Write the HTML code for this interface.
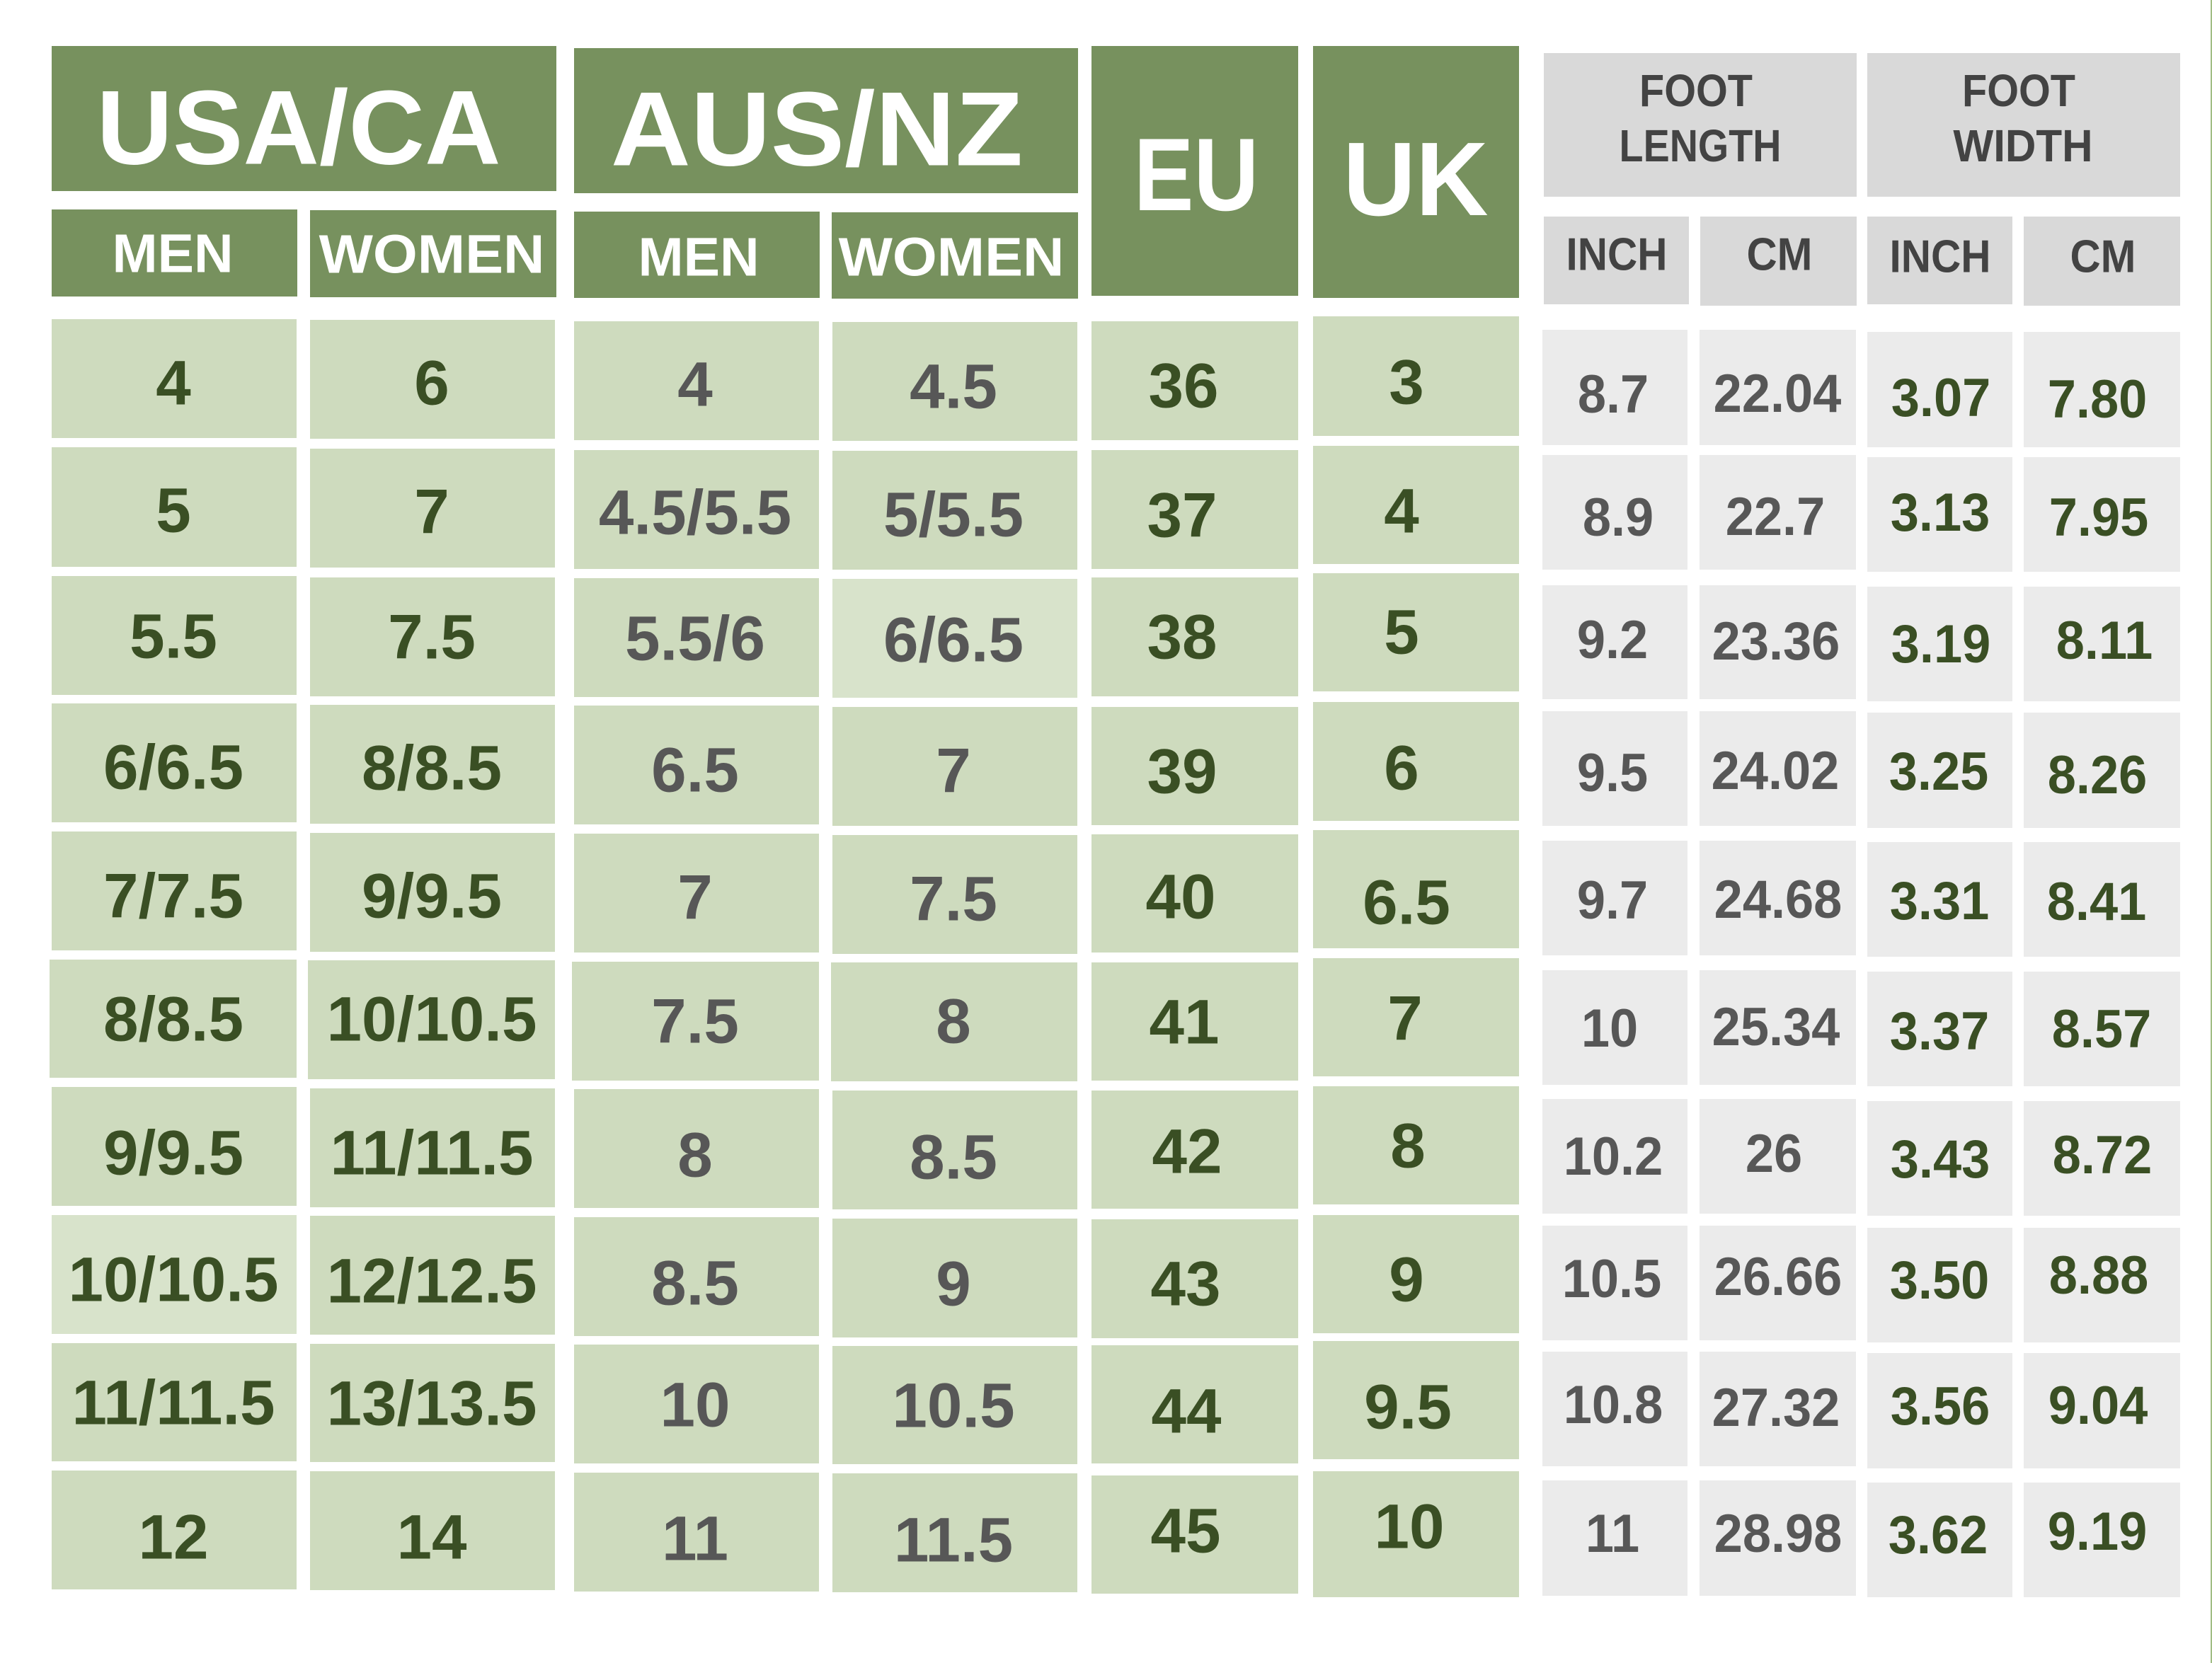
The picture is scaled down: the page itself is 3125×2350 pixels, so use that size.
<!DOCTYPE html>
<html>
<head>
<meta charset="utf-8">
<style>
html,body{margin:0;padding:0;background:#ffffff;}
body{width:3125px;height:2350px;position:relative;overflow:hidden;}
.c{position:absolute;}
.h{background:#77915e;}
.g{background:#cedbbe;}
.gl{background:#d8e3cb;}
.r{background:#ebebeb;}
.rh{background:#d9d9d9;}
.t{position:absolute;font-family:"Liberation Sans",Arial,sans-serif;font-weight:bold;line-height:1;white-space:nowrap;transform:translate(-50%,-50%);}
.w{color:#ffffff;}
.hg{color:#434343;}
.dg{color:#3a4f24;font-size:89px;}
.gr{color:#575757;font-size:89px;}
.rdg{color:#3a4f24;font-size:76px;transform:translate(-50%,-50%) scaleX(0.95);}
.rgr{color:#575757;font-size:76px;transform:translate(-50%,-50%) scaleX(0.95);}
</style>
</head>
<body>
<!-- right edge line -->
<div class="c" style="left:3123px;top:0;width:2px;height:2350px;background:#a0bd84"></div>

<!-- header boxes -->
<div class="c h" style="left:73px;top:65px;width:713px;height:205px"></div>
<div class="c h" style="left:811px;top:68px;width:712px;height:205px"></div>
<div class="c h" style="left:73px;top:296px;width:347px;height:123px"></div>
<div class="c h" style="left:438px;top:297px;width:348px;height:123px"></div>
<div class="c h" style="left:811px;top:299px;width:347px;height:122px"></div>
<div class="c h" style="left:1175px;top:300px;width:348px;height:122px"></div>
<div class="c h" style="left:1542px;top:65px;width:292px;height:353px"></div>
<div class="c h" style="left:1855px;top:65px;width:291px;height:356px"></div>

<div class="c rh" style="left:2181px;top:75px;width:442px;height:203px"></div>
<div class="c rh" style="left:2638px;top:75px;width:442px;height:203px"></div>
<div class="c rh" style="left:2181px;top:306px;width:205px;height:124px"></div>
<div class="c rh" style="left:2402px;top:306px;width:221px;height:126px"></div>
<div class="c rh" style="left:2638px;top:306px;width:205px;height:124px"></div>
<div class="c rh" style="left:2859px;top:306px;width:221px;height:126px"></div>

<!-- header texts -->
<div class="t w" style="left:422px;top:180px;font-size:149px">USA/CA</div>
<div class="t w" style="left:1154px;top:182px;font-size:149px;transform:translate(-50%,-50%) scaleX(1.05)">AUS/NZ</div>
<div class="t w" style="left:244px;top:359px;font-size:77px">MEN</div>
<div class="t w" style="left:610px;top:360px;font-size:77px;transform:translate(-50%,-50%) scaleX(1.05)">WOMEN</div>
<div class="t w" style="left:987px;top:364px;font-size:77px">MEN</div>
<div class="t w" style="left:1344px;top:364px;font-size:77px;transform:translate(-50%,-50%) scaleX(1.05)">WOMEN</div>
<div class="t w" style="left:1690px;top:247px;font-size:146px;transform:translate(-50%,-50%) scaleX(0.87)">EU</div>
<div class="t w" style="left:2000px;top:254px;font-size:148px;transform:translate(-50%,-50%) scaleX(0.96)">UK</div>

<div class="t hg" style="left:2396px;top:128px;font-size:64px;transform:translate(-50%,-50%) scaleX(0.9)">FOOT</div>
<div class="t hg" style="left:2402px;top:206px;font-size:64px;transform:translate(-50%,-50%) scaleX(0.87)">LENGTH</div>
<div class="t hg" style="left:2852px;top:128px;font-size:64px;transform:translate(-50%,-50%) scaleX(0.9)">FOOT</div>
<div class="t hg" style="left:2858px;top:206px;font-size:64px;transform:translate(-50%,-50%) scaleX(0.94)">WIDTH</div>
<div class="t hg" style="left:2284px;top:359px;font-size:65px;transform:translate(-50%,-50%) scaleX(0.9)">INCH</div>
<div class="t hg" style="left:2514px;top:359px;font-size:65px;transform:translate(-50%,-50%) scaleX(0.92)">CM</div>
<div class="t hg" style="left:2741px;top:362px;font-size:65px;transform:translate(-50%,-50%) scaleX(0.9)">INCH</div>
<div class="t hg" style="left:2971px;top:362px;font-size:65px;transform:translate(-50%,-50%) scaleX(0.92)">CM</div>

<!-- Column 1: USA MEN -->
<div class="c g" style="left:73px;top:451px;width:346px;height:168px"></div>
<div class="c g" style="left:73px;top:632px;width:346px;height:169px"></div>
<div class="c g" style="left:73px;top:814px;width:346px;height:168px"></div>
<div class="c g" style="left:73px;top:994px;width:346px;height:168px"></div>
<div class="c g" style="left:73px;top:1175px;width:346px;height:168px"></div>
<div class="c g" style="left:70px;top:1356px;width:349px;height:167px"></div>
<div class="c g" style="left:73px;top:1536px;width:346px;height:168px"></div>
<div class="c gl" style="left:73px;top:1717px;width:346px;height:168px"></div>
<div class="c g" style="left:73px;top:1898px;width:346px;height:167px"></div>
<div class="c g" style="left:73px;top:2078px;width:346px;height:168px"></div>
<div class="t dg" style="left:245px;top:541px">4</div>
<div class="t dg" style="left:245px;top:721px">5</div>
<div class="t dg" style="left:245px;top:899px">5.5</div>
<div class="t dg" style="left:245px;top:1084px">6/6.5</div>
<div class="t dg" style="left:245px;top:1266px">7/7.5</div>
<div class="t dg" style="left:245px;top:1440px">8/8.5</div>
<div class="t dg" style="left:245px;top:1629px">9/9.5</div>
<div class="t dg" style="left:245px;top:1808px">10/10.5</div>
<div class="t dg" style="left:245px;top:1982px">11/11.5</div>
<div class="t dg" style="left:245px;top:2172px">12</div>

<!-- Column 2: USA WOMEN -->
<div class="c g" style="left:438px;top:452px;width:346px;height:168px"></div>
<div class="c g" style="left:438px;top:634px;width:346px;height:168px"></div>
<div class="c g" style="left:438px;top:816px;width:346px;height:168px"></div>
<div class="c g" style="left:438px;top:996px;width:346px;height:168px"></div>
<div class="c g" style="left:438px;top:1177px;width:346px;height:168px"></div>
<div class="c g" style="left:435px;top:1357px;width:349px;height:168px"></div>
<div class="c g" style="left:438px;top:1538px;width:346px;height:168px"></div>
<div class="c g" style="left:438px;top:1718px;width:346px;height:168px"></div>
<div class="c g" style="left:438px;top:1899px;width:346px;height:167px"></div>
<div class="c g" style="left:438px;top:2079px;width:346px;height:168px"></div>
<div class="t dg" style="left:610px;top:541px">6</div>
<div class="t dg" style="left:610px;top:723px">7</div>
<div class="t dg" style="left:610px;top:900px">7.5</div>
<div class="t dg" style="left:610px;top:1085px">8/8.5</div>
<div class="t dg" style="left:610px;top:1266px">9/9.5</div>
<div class="t dg" style="left:610px;top:1440px">10/10.5</div>
<div class="t dg" style="left:610px;top:1629px">11/11.5</div>
<div class="t dg" style="left:610px;top:1810px">12/12.5</div>
<div class="t dg" style="left:610px;top:1983px">13/13.5</div>
<div class="t dg" style="left:610px;top:2172px">14</div>

<!-- Column 3: AUS MEN -->
<div class="c g" style="left:811px;top:454px;width:346px;height:168px"></div>
<div class="c g" style="left:811px;top:636px;width:346px;height:168px"></div>
<div class="c g" style="left:811px;top:817px;width:346px;height:168px"></div>
<div class="c g" style="left:811px;top:997px;width:346px;height:168px"></div>
<div class="c g" style="left:811px;top:1178px;width:346px;height:168px"></div>
<div class="c g" style="left:808px;top:1359px;width:349px;height:168px"></div>
<div class="c g" style="left:811px;top:1539px;width:346px;height:168px"></div>
<div class="c g" style="left:811px;top:1720px;width:346px;height:168px"></div>
<div class="c g" style="left:811px;top:1900px;width:346px;height:168px"></div>
<div class="c g" style="left:811px;top:2081px;width:346px;height:168px"></div>
<div class="t gr" style="left:982px;top:543px">4</div>
<div class="t gr" style="left:982px;top:724px">4.5/5.5</div>
<div class="t gr" style="left:982px;top:902px">5.5/6</div>
<div class="t gr" style="left:982px;top:1088px">6.5</div>
<div class="t gr" style="left:982px;top:1268px">7</div>
<div class="t gr" style="left:982px;top:1443px">7.5</div>
<div class="t gr" style="left:982px;top:1632px">8</div>
<div class="t gr" style="left:982px;top:1813px">8.5</div>
<div class="t gr" style="left:982px;top:1985px">10</div>
<div class="t gr" style="left:982px;top:2174px">11</div>

<!-- Column 4: AUS WOMEN -->
<div class="c g" style="left:1176px;top:455px;width:346px;height:168px"></div>
<div class="c g" style="left:1176px;top:637px;width:346px;height:168px"></div>
<div class="c gl" style="left:1176px;top:818px;width:346px;height:168px"></div>
<div class="c g" style="left:1176px;top:999px;width:346px;height:168px"></div>
<div class="c g" style="left:1176px;top:1180px;width:346px;height:168px"></div>
<div class="c g" style="left:1174px;top:1360px;width:348px;height:168px"></div>
<div class="c g" style="left:1176px;top:1541px;width:346px;height:168px"></div>
<div class="c g" style="left:1176px;top:1722px;width:346px;height:168px"></div>
<div class="c g" style="left:1176px;top:1902px;width:346px;height:167px"></div>
<div class="c g" style="left:1176px;top:2082px;width:346px;height:168px"></div>
<div class="t gr" style="left:1347px;top:546px">4.5</div>
<div class="t gr" style="left:1347px;top:727px">5/5.5</div>
<div class="t gr" style="left:1347px;top:904px">6/6.5</div>
<div class="t gr" style="left:1347px;top:1089px">7</div>
<div class="t gr" style="left:1347px;top:1270px">7.5</div>
<div class="t gr" style="left:1347px;top:1443px">8</div>
<div class="t gr" style="left:1347px;top:1635px">8.5</div>
<div class="t gr" style="left:1347px;top:1814px">9</div>
<div class="t gr" style="left:1347px;top:1986px">10.5</div>
<div class="t gr" style="left:1347px;top:2176px">11.5</div>

<!-- Column 5: EU -->
<div class="c g" style="left:1542px;top:454px;width:292px;height:168px"></div>
<div class="c g" style="left:1542px;top:636px;width:292px;height:168px"></div>
<div class="c g" style="left:1542px;top:816px;width:292px;height:168px"></div>
<div class="c g" style="left:1542px;top:999px;width:292px;height:167px"></div>
<div class="c g" style="left:1542px;top:1179px;width:292px;height:167px"></div>
<div class="c g" style="left:1542px;top:1360px;width:292px;height:167px"></div>
<div class="c g" style="left:1542px;top:1541px;width:292px;height:167px"></div>
<div class="c g" style="left:1542px;top:1723px;width:292px;height:168px"></div>
<div class="c g" style="left:1542px;top:1901px;width:292px;height:167px"></div>
<div class="c g" style="left:1542px;top:2085px;width:292px;height:167px"></div>
<div class="t dg" style="left:1672px;top:545px">36</div>
<div class="t dg" style="left:1670px;top:728px">37</div>
<div class="t dg" style="left:1670px;top:900px">38</div>
<div class="t dg" style="left:1670px;top:1090px">39</div>
<div class="t dg" style="left:1668px;top:1267px">40</div>
<div class="t dg" style="left:1673px;top:1444px">41</div>
<div class="t dg" style="left:1677px;top:1627px">42</div>
<div class="t dg" style="left:1675px;top:1814px">43</div>
<div class="t dg" style="left:1676px;top:1994px">44</div>
<div class="t dg" style="left:1675px;top:2163px">45</div>

<!-- Column 6: UK -->
<div class="c g" style="left:1855px;top:447px;width:291px;height:169px"></div>
<div class="c g" style="left:1855px;top:630px;width:291px;height:167px"></div>
<div class="c g" style="left:1855px;top:810px;width:291px;height:167px"></div>
<div class="c g" style="left:1855px;top:992px;width:291px;height:168px"></div>
<div class="c g" style="left:1855px;top:1173px;width:291px;height:167px"></div>
<div class="c g" style="left:1855px;top:1354px;width:291px;height:167px"></div>
<div class="c g" style="left:1855px;top:1535px;width:291px;height:167px"></div>
<div class="c g" style="left:1855px;top:1717px;width:291px;height:167px"></div>
<div class="c g" style="left:1855px;top:1895px;width:291px;height:167px"></div>
<div class="c g" style="left:1855px;top:2079px;width:291px;height:178px"></div>
<div class="t dg" style="left:1987px;top:540px">3</div>
<div class="t dg" style="left:1980px;top:722px">4</div>
<div class="t dg" style="left:1980px;top:893px">5</div>
<div class="t dg" style="left:1980px;top:1085px">6</div>
<div class="t dg" style="left:1987px;top:1275px">6.5</div>
<div class="t dg" style="left:1985px;top:1439px">7</div>
<div class="t dg" style="left:1989px;top:1619px">8</div>
<div class="t dg" style="left:1987px;top:1808px">9</div>
<div class="t dg" style="left:1989px;top:1988px">9.5</div>
<div class="t dg" style="left:1991px;top:2157px">10</div>

<!-- Column 7: FOOT LENGTH INCH -->
<div class="c r" style="left:2179px;top:466px;width:205px;height:163px"></div>
<div class="c r" style="left:2179px;top:643px;width:205px;height:162px"></div>
<div class="c r" style="left:2179px;top:827px;width:205px;height:161px"></div>
<div class="c r" style="left:2179px;top:1005px;width:205px;height:162px"></div>
<div class="c r" style="left:2179px;top:1188px;width:205px;height:162px"></div>
<div class="c r" style="left:2179px;top:1371px;width:205px;height:162px"></div>
<div class="c r" style="left:2179px;top:1553px;width:205px;height:162px"></div>
<div class="c r" style="left:2179px;top:1732px;width:205px;height:162px"></div>
<div class="c r" style="left:2179px;top:1910px;width:205px;height:162px"></div>
<div class="c r" style="left:2179px;top:2092px;width:205px;height:163px"></div>
<div class="t rgr" style="left:2279px;top:558px">8.7</div>
<div class="t rgr" style="left:2286px;top:732px">8.9</div>
<div class="t rgr" style="left:2278px;top:905px">9.2</div>
<div class="t rgr" style="left:2278px;top:1093px">9.5</div>
<div class="t rgr" style="left:2278px;top:1273px">9.7</div>
<div class="t rgr" style="left:2274px;top:1454px">10</div>
<div class="t rgr" style="left:2279px;top:1635px">10.2</div>
<div class="t rgr" style="left:2277px;top:1808px">10.5</div>
<div class="t rgr" style="left:2279px;top:1986px">10.8</div>
<div class="t rgr" style="left:2278px;top:2168px">11</div>

<!-- Column 8: FOOT LENGTH CM -->
<div class="c r" style="left:2401px;top:466px;width:221px;height:163px"></div>
<div class="c r" style="left:2401px;top:643px;width:221px;height:162px"></div>
<div class="c r" style="left:2401px;top:827px;width:221px;height:161px"></div>
<div class="c r" style="left:2401px;top:1005px;width:221px;height:162px"></div>
<div class="c r" style="left:2401px;top:1188px;width:221px;height:162px"></div>
<div class="c r" style="left:2401px;top:1371px;width:221px;height:162px"></div>
<div class="c r" style="left:2401px;top:1553px;width:221px;height:162px"></div>
<div class="c r" style="left:2401px;top:1732px;width:221px;height:162px"></div>
<div class="c r" style="left:2401px;top:1910px;width:221px;height:162px"></div>
<div class="c r" style="left:2401px;top:2092px;width:221px;height:163px"></div>
<div class="t rgr" style="left:2511px;top:557px">22.04</div>
<div class="t rgr" style="left:2508px;top:731px">22.7</div>
<div class="t rgr" style="left:2509px;top:907px">23.36</div>
<div class="t rgr" style="left:2508px;top:1090px">24.02</div>
<div class="t rgr" style="left:2512px;top:1272px">24.68</div>
<div class="t rgr" style="left:2509px;top:1452px">25.34</div>
<div class="t rgr" style="left:2506px;top:1631px">26</div>
<div class="t rgr" style="left:2512px;top:1805px">26.66</div>
<div class="t rgr" style="left:2509px;top:1990px">27.32</div>
<div class="t rgr" style="left:2512px;top:2168px">28.98</div>

<!-- Column 9: FOOT WIDTH INCH -->
<div class="c r" style="left:2638px;top:469px;width:205px;height:163px"></div>
<div class="c r" style="left:2638px;top:646px;width:205px;height:162px"></div>
<div class="c r" style="left:2638px;top:829px;width:205px;height:162px"></div>
<div class="c r" style="left:2638px;top:1007px;width:205px;height:163px"></div>
<div class="c r" style="left:2638px;top:1190px;width:205px;height:162px"></div>
<div class="c r" style="left:2638px;top:1373px;width:205px;height:162px"></div>
<div class="c r" style="left:2638px;top:1556px;width:205px;height:162px"></div>
<div class="c r" style="left:2638px;top:1735px;width:205px;height:162px"></div>
<div class="c r" style="left:2638px;top:1912px;width:205px;height:163px"></div>
<div class="c r" style="left:2638px;top:2095px;width:205px;height:162px"></div>
<div class="t rdg" style="left:2742px;top:563px">3.07</div>
<div class="t rdg" style="left:2741px;top:725px">3.13</div>
<div class="t rdg" style="left:2742px;top:911px">3.19</div>
<div class="t rdg" style="left:2739px;top:1091px">3.25</div>
<div class="t rdg" style="left:2740px;top:1274px">3.31</div>
<div class="t rdg" style="left:2740px;top:1458px">3.37</div>
<div class="t rdg" style="left:2741px;top:1639px">3.43</div>
<div class="t rdg" style="left:2740px;top:1810px">3.50</div>
<div class="t rdg" style="left:2741px;top:1988px">3.56</div>
<div class="t rdg" style="left:2738px;top:2170px">3.62</div>

<!-- Column 10: FOOT WIDTH CM -->
<div class="c r" style="left:2859px;top:469px;width:221px;height:163px"></div>
<div class="c r" style="left:2859px;top:646px;width:221px;height:162px"></div>
<div class="c r" style="left:2859px;top:829px;width:221px;height:162px"></div>
<div class="c r" style="left:2859px;top:1007px;width:221px;height:163px"></div>
<div class="c r" style="left:2859px;top:1190px;width:221px;height:162px"></div>
<div class="c r" style="left:2859px;top:1373px;width:221px;height:162px"></div>
<div class="c r" style="left:2859px;top:1556px;width:221px;height:162px"></div>
<div class="c r" style="left:2859px;top:1735px;width:221px;height:162px"></div>
<div class="c r" style="left:2859px;top:1912px;width:221px;height:163px"></div>
<div class="c r" style="left:2859px;top:2095px;width:221px;height:162px"></div>
<div class="t rdg" style="left:2963px;top:565px">7.80</div>
<div class="t rdg" style="left:2965px;top:732px">7.95</div>
<div class="t rdg" style="left:2973px;top:906px">8.11</div>
<div class="t rdg" style="left:2963px;top:1096px">8.26</div>
<div class="t rdg" style="left:2962px;top:1275px">8.41</div>
<div class="t rdg" style="left:2969px;top:1455px">8.57</div>
<div class="t rdg" style="left:2970px;top:1633px">8.72</div>
<div class="t rdg" style="left:2965px;top:1803px">8.88</div>
<div class="t rdg" style="left:2964px;top:1987px">9.04</div>
<div class="t rdg" style="left:2963px;top:2165px">9.19</div>
</body>
</html>
